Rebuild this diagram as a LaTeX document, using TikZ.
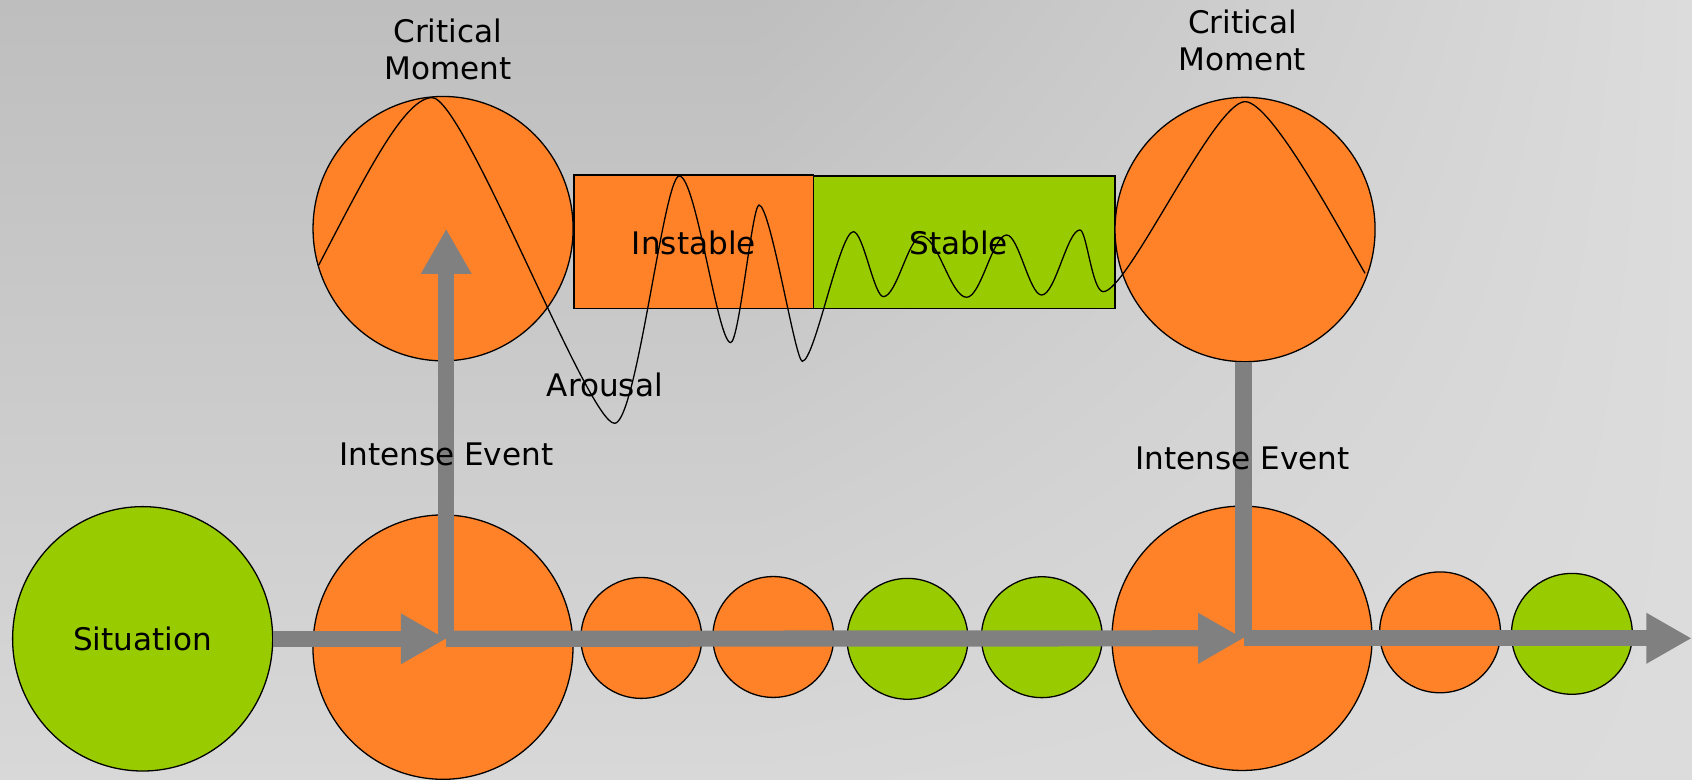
\documentclass[tikz,border=0pt]{standalone}
\usepackage{fontspec}
\setmainfont{DejaVu Sans}
\usetikzlibrary{arrows.meta,shapes.geometric,shadings}
\definecolor{orng}{HTML}{FF8229}
\definecolor{grn}{HTML}{99CC00}
\definecolor{arrgray}{HTML}{808080}
\definecolor{bgtop}{HTML}{BEBEBE}
\definecolor{bgbot}{HTML}{D8D8D8}
\definecolor{bgright}{HTML}{DCDCDC}
\begin{document}
\begin{tikzpicture}[x=1pt,y=-1pt,
  bigc/.style={ellipse,draw=black,line width=1.2pt,minimum width=241pt,minimum height=245pt,inner sep=0pt},
  smallc/.style={ellipse,draw=black,line width=1.2pt,minimum width=112pt,minimum height=112pt,inner sep=0pt},
  rectbox/.style={rectangle,draw=black,line width=1.2pt,inner sep=0pt},
  lbl/.style={font=\fontsize{28.8pt}{34.5pt}\selectfont,inner sep=0pt,text=black},
  bar/.style={draw=arrgray,line width=15pt},
  arr/.style={bar,-{Triangle[width=44pt,length=42pt]}},
  wave/.style={draw=black,line width=1.2pt}
]
\useasboundingbox (0,0) rectangle (1568,722);
\shade[top color=bgtop,bottom color=bgbot] (0,0) rectangle (700.5,722);
\shade[upper left=bgtop,lower left=bgbot,upper right=bgright,lower right=bgright] (700,0) rectangle (1568,722);

% boxes
\node[rectbox,fill=orng,minimum width=221.7pt,minimum height=123.5pt] (inst) at (642.85,223.95) {};
\node[rectbox,fill=grn,minimum width=279.6pt,minimum height=122.7pt] (stab) at (893.5,224.35) {};

% top circles
\node[bigc,fill=orng] (tl) at (410.6,211.9) {};
\node[bigc,fill=orng] (tr) at (1153.8,212.7) {};

% bottom circles
\node[bigc,fill=grn,lbl] (sit) at (132.2,592) {Situation};
\node[bigc,fill=orng] (b1) at (410.5,599.7) {};
\node[smallc,fill=orng] (s1) at (594.3,591.2) {};
\node[smallc,fill=orng] (s2) at (716.6,590.3) {};
\node[smallc,fill=grn] (g1) at (841,592) {};
\node[smallc,fill=grn] (g2) at (965.5,590.5) {};
\node[bigc,fill=orng] (b2) at (1151,591.5) {};
\node[smallc,fill=orng] (s3) at (1334.5,586) {};
\node[smallc,fill=grn] (g3) at (1456.7,587.4) {};

% arrows
\coordinate (j1) at (413.5,592);
\coordinate (j2) at (1152.4,591.5);
\coordinate (tipend) at (1567.7,591.5);
\draw[arr] (sit.east) -- (j1);
\draw[arr] (j1) -- (j2);
\draw[arr] (j2) -- (tipend);
\draw[arr] (j1) -- (j1 |- tl.center);
\draw[bar] (j2 |- tr.south) -- (j2);

% arousal curve
\draw[wave] (295.4,245.6)
  .. controls (340,160) and (375,90.5) .. (400.5,90.5)
  .. controls (430,90.5) and (545,392.3) .. (569.5,392.3)
  .. controls (590,392.3) and (615,163.1) .. (629.5,163.1)
  .. controls (645,163.1) and (665,317.5) .. (677.1,317.5)
  .. controls (685,317.5) and (697,190) .. (703.4,190)
  .. controls (714,190) and (737,334.8) .. (743.5,334.8)
  .. controls (755,334.8) and (778,214.7) .. (790.8,214.7)
  .. controls (800,214.7) and (810,274.9) .. (818.6,274.9)
  .. controls (831,274.9) and (842,219) .. (854,219)
  .. controls (869,219) and (881,275.5) .. (895.8,275.5)
  .. controls (909,275.5) and (920,217.8) .. (932.9,217.8)
  .. controls (944,217.8) and (954,273.4) .. (965.3,273.4)
  .. controls (978,273.4) and (989,213.1) .. (1000.8,213.1)
  .. controls (1007,213.1) and (1012,270.3) .. (1022.4,270.3)
  .. controls (1045,270.3) and (1125,94.2) .. (1153.8,94.2)
  .. controls (1178,94.2) and (1240,210.3) .. (1265,253.3);

% labels
\node[lbl,align=center] (cm1) at (415,46) {Critical\\Moment};
\node[lbl,align=center] (cm2) at (1151.3,37.8) {Critical\\Moment};
\node[lbl,anchor=base] (ie1) at (413.5,431) {Intense Event};
\node[lbl,anchor=base] (ie2) at (1151.5,434.9) {Intense Event};
\node[lbl,anchor=base] (instl) at (643,236.3) {Instable};
\node[lbl,anchor=base] (stabl) at (888.5,235.4) {Stable};
\node[lbl,anchor=base] (arl) at (560.5,367) {Arousal};
\end{tikzpicture}
\end{document}
